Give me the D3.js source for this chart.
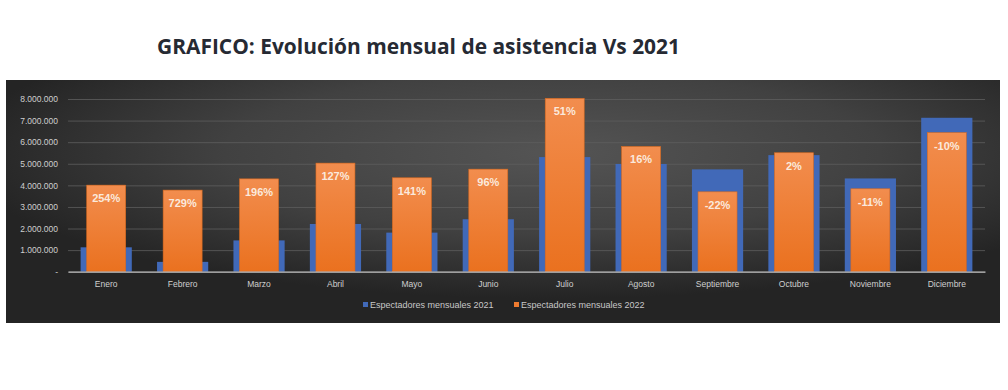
<!DOCTYPE html>
<html><head><meta charset="utf-8">
<script src="https://cdn.jsdelivr.net/npm/d3@7"></script>
<style>html,body{margin:0;padding:0;background:#fff;}svg{display:block;}</style>
</head><body>
<svg id="c" width="1008" height="390"></svg>
<script>
const months = ["Enero","Febrero","Marzo","Abril","Mayo","Junio","Julio","Agosto","Septiembre","Octubre","Noviembre","Diciembre"];
const v2021 = [1130000,456000,1450000,2210000,1810000,2430000,5310000,4990000,4740000,5400000,4320000,7130000];
const v2022 = [4010000,3780000,4300000,5030000,4350000,4750000,8030000,5800000,3700000,5510000,3840000,6440000];
const pctLabels = ["254%","729%","196%","127%","141%","96%","51%","16%","-22%","2%","-11%","-10%"];
const yTicks = [0,1000000,2000000,3000000,4000000,5000000,6000000,7000000,8000000];
const seriesNames = ["Espectadores mensuales 2021","Espectadores mensuales 2022"];

const svg = d3.select("#c");
const defs = svg.append("defs");
const bg = defs.append("radialGradient").attr("id","bg").attr("cx","55%").attr("cy","30%").attr("r","60%");
bg.append("stop").attr("offset","0%").attr("stop-color","#545454");
bg.append("stop").attr("offset","55%").attr("stop-color","#414141");
bg.append("stop").attr("offset","100%").attr("stop-color","#242424");
const og = defs.append("linearGradient").attr("id","og").attr("x1","0").attr("y1","0").attr("x2","0").attr("y2","1");
og.append("stop").attr("offset","0%").attr("stop-color","#f28d4e");
og.append("stop").attr("offset","100%").attr("stop-color","#ea711f");

svg.append("text").attr("x",157).attr("y",54).attr("font-family","Open Sans, Liberation Sans, Arial, sans-serif")
  .attr("font-weight","bold").attr("font-size",20.5).attr("fill","#262a33")
  .attr("textLength",523).attr("lengthAdjust","spacingAndGlyphs")
  .text("GRAFICO: Evolución mensual de asistencia Vs 2021");

svg.append("rect").attr("x",6).attr("y",80).attr("width",994).attr("height",243).attr("fill","url(#bg)");

const x = d3.scaleBand().domain(months).range([68,985]).padding(0);
const y = d3.scaleLinear().domain([0,8000000]).range([271.7,99]);
const fmt = v => v === 0 ? "-" : d3.format(",")(v).replace(/,/g,".");

const yAxis = svg.append("g").attr("transform","translate(68,0)")
  .call(d3.axisLeft(y).tickValues(yTicks).tickSize(-917).tickFormat(fmt).tickPadding(10));
yAxis.select(".domain").remove();
yAxis.selectAll(".tick line").attr("stroke","#5e5e5e").attr("stroke-width",0.8);
yAxis.selectAll(".tick text").attr("fill","#cfcfcf").attr("font-size",8.5).attr("font-family","Liberation Sans, Arial, sans-serif");

const bw = x.bandwidth();
const g = svg.append("g");
g.selectAll("rect.b").data(months).join("rect").attr("class","b")
  .attr("x",d=>x(d)+bw/2-bw*0.335).attr("width",bw*0.67)
  .attr("y",(d,i)=>y(v2021[i])).attr("height",(d,i)=>y(0)-y(v2021[i]))
  .attr("fill","#4169b8");
g.selectAll("rect.o").data(months).join("rect").attr("class","o")
  .attr("x",d=>x(d)+bw/2-bw*0.255).attr("width",bw*0.51)
  .attr("y",(d,i)=>y(v2022[i])).attr("height",(d,i)=>y(0)-y(v2022[i]))
  .attr("fill","url(#og)").attr("stroke","#d8691e").attr("stroke-width",0.6);
g.selectAll("text.p").data(months).join("text").attr("class","p")
  .attr("x",d=>x(d)+bw/2).attr("y",(d,i)=>y(v2022[i])+17)
  .attr("text-anchor","middle").attr("fill","#fbe9dc").attr("font-weight","bold")
  .attr("font-size",11).attr("font-family","Liberation Sans, Arial, sans-serif")
  .text((d,i)=>pctLabels[i]);

const xAxis = svg.append("g").attr("transform",`translate(0,${y(0)})`)
  .call(d3.axisBottom(x).tickSize(0).tickPadding(9));
xAxis.select(".domain").attr("stroke","#bdbdbd").attr("stroke-width",1.2);
xAxis.selectAll(".tick text").attr("fill","#cfcfcf").attr("font-size",8.5).attr("font-family","Liberation Sans, Arial, sans-serif");

const legX = [363, 514], legC = ["#4169b8","#ee7b30"];
const leg = svg.append("g");
seriesNames.forEach((n,i)=>{
  leg.append("rect").attr("x",legX[i]).attr("y",302).attr("width",5).attr("height",5).attr("fill",legC[i]);
  leg.append("text").attr("x",legX[i]+7).attr("y",307.5).attr("fill","#c8c8c8").attr("font-size",9)
    .attr("font-family","Liberation Sans, Arial, sans-serif").text(n);
});
</script>
</body></html>
